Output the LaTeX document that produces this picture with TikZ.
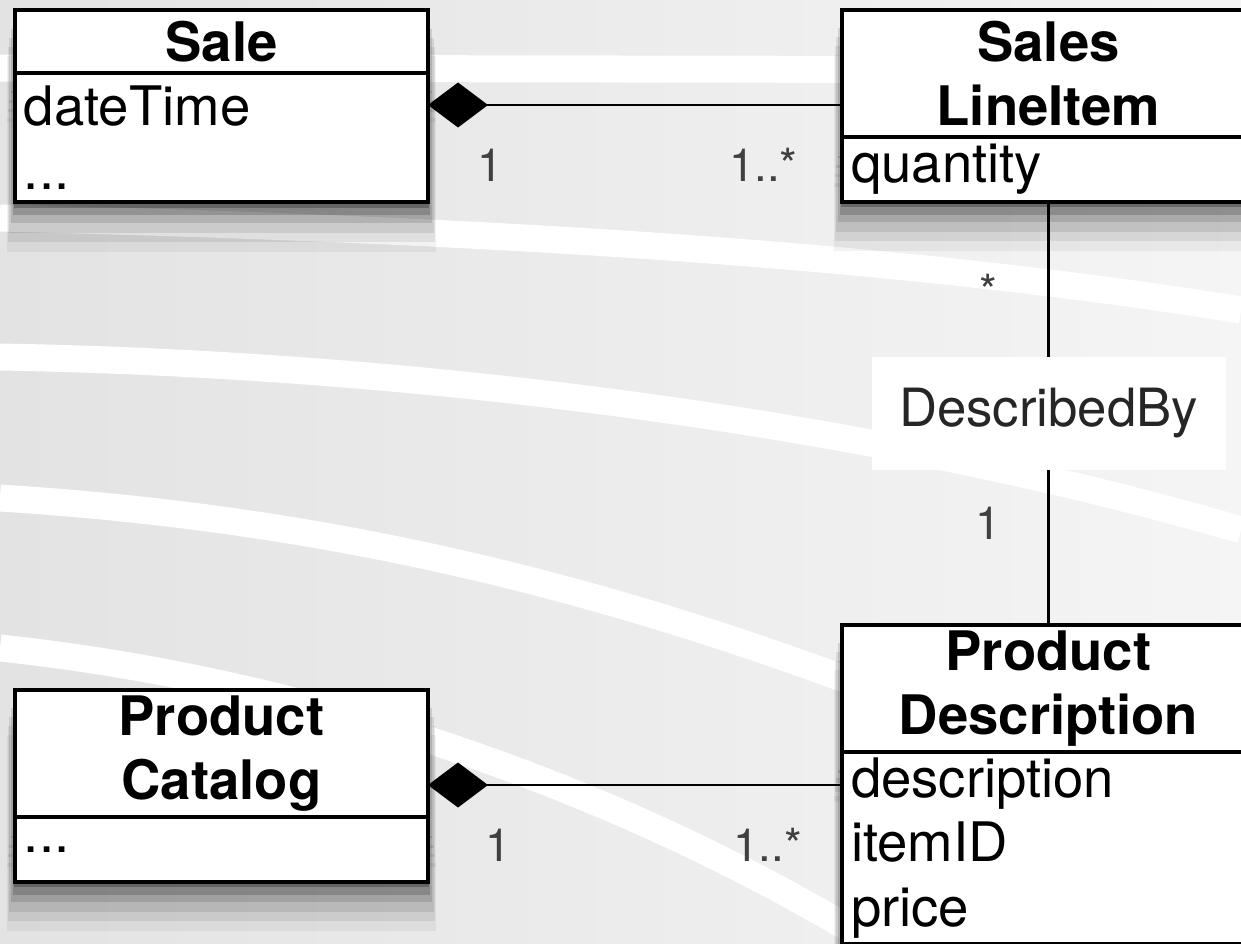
\documentclass[tikz,border=0pt]{standalone}
\usepackage{fontspec}
\setmainfont{TeX Gyre Heros}
\usetikzlibrary{positioning,arrows.meta,shadows}

\tikzset{
	boxshadow/.style={
		general shadow={fill=black,opacity=.05,shadow yshift=-26pt,shadow scale=1.04},
		general shadow={fill=black,opacity=.07,shadow yshift=-21pt,shadow scale=1.035},
		general shadow={fill=black,opacity=.09,shadow yshift=-16pt,shadow scale=1.03},
		general shadow={fill=black,opacity=.12,shadow yshift=-11pt,shadow scale=1.02},
		general shadow={fill=black,opacity=.17,shadow yshift=-7pt,shadow scale=1.012},
		general shadow={fill=black,opacity=.25,shadow yshift=-3pt,shadow scale=1.005}},
	classhead/.style={draw=black,line width=2pt,fill=white,outer sep=0pt,text width=7.9cm,inner xsep=0.18cm,inner ysep=0pt,align=center,font=\fontsize{31}{36.5}\selectfont\bfseries,anchor=north west,boxshadow},
	classattr/.style={draw=black,line width=2pt,fill=white,outer sep=0pt,text width=7.9cm,inner xsep=0.18cm,inner ysep=0pt,align=left,font=\fontsize{31}{36.5}\selectfont,boxshadow},
	comp/.style={{Diamond[length=1.2cm,width=0.9cm]}-,line width=1.3pt},
	assoc/.style={line width=1.3pt},
	mult/.style={font=\fontsize{26}{30}\selectfont,text=black!75},
	linklabel/.style={fill=white,minimum width=7.08cm,minimum height=2.26cm,font=\fontsize{30}{34}\selectfont,text=black!85},
	band/.style={white,line width=0.54cm},
}

\begin{document}
\begin{tikzpicture}
	\useasboundingbox (0,0) rectangle (24.82,-18.88);
	% background with swooshes
	\fill[left color=black!11,right color=black!4] (0,0) rectangle (24.82,-18.88);
	\draw[band] (0,-1.36) -- (24.82,-1.40);
	\draw[band] (0,-4.36) .. controls (10,-4.6) and (18,-5.1) .. (24.82,-6.2);
	\draw[band] (0,-7.14) .. controls (9,-7.3) and (18,-8.6) .. (24.82,-10.6);
	\draw[band] (0,-9.96) .. controls (7,-10.4) and (13,-11.9) .. (20,-14.8);
	\draw[band] (0,-12.96) .. controls (6,-13.6) and (12,-15.6) .. (17.2,-18.7);

	% classes
	\node[classhead,minimum height=1.26cm] (SaleHead) at (0.30,-0.20) {Sale};
	\node[classattr,minimum height=2.58cm,below=0pt of SaleHead] (SaleAttr) {dateTime\\...};
	\node[classhead,minimum height=2.54cm] (SLIHead) at (16.84,-0.20) {Sales\\LineItem};
	\node[classattr,minimum height=1.30cm,below=0pt of SLIHead] (SLIAttr) {quantity};
	\node[classhead,minimum height=2.54cm] (PCHead) at (0.30,-13.80) {Product\\Catalog};
	\node[classattr,minimum height=1.30cm,below=0pt of PCHead] (PCAttr) {...};
	\node[classhead,minimum height=2.54cm] (PDHead) at (16.84,-12.50) {Product\\Description};
	\node[classattr,minimum height=3.84cm,below=0pt of PDHead] (PDAttr) {description\\itemID\\price};

	% associations
	\coordinate (SaleJoin) at ([yshift=-0.64cm]SaleAttr.north east);
	\draw[comp] (SaleJoin) -- (SaleJoin -| SLIHead.west)
		node[mult,pos=.15,yshift=-1.2cm] {1}
		node[mult,pos=.81,yshift=-1.2cm] {1..*};
	\draw[assoc] (SLIAttr.south) -- (PDHead.north)
		node[mult,pos=.21,xshift=-1.2cm] {*}
		node[mult,pos=.76,xshift=-1.2cm] {1}
		node[linklabel,midway] (DescBy) {DescribedBy};
	\coordinate (PCJoin) at ([yshift=-0.66cm]PDAttr.north west);
	\draw[comp] (PCHead.east |- PCJoin) -- (PCJoin)
		node[mult,pos=.17,yshift=-1.2cm] {1}
		node[mult,pos=.82,yshift=-1.2cm] {1..*};
\end{tikzpicture}
\end{document}
